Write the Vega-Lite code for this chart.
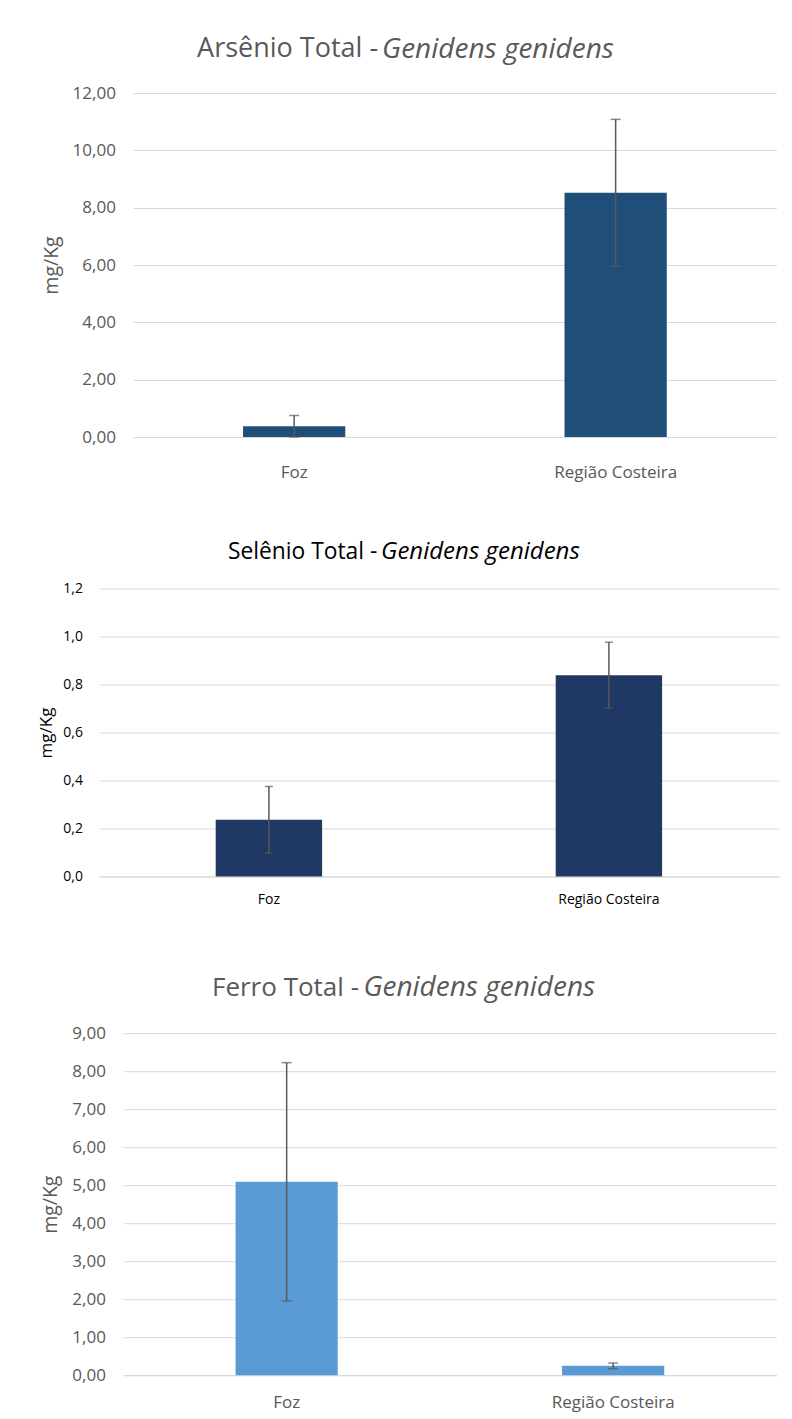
{
  "$schema": "https://vega.github.io/schema/vega-lite/v6.json",
  "background": "white",
  "padding": {"left": 20, "top": 35, "right": 5, "bottom": 5},
  "datasets": {
    "arsenio": [
      {"local": "Foz", "media": 0.375, "dp": 0.375},
      {"local": "Região Costeira", "media": 8.52, "dp": 2.56}
    ],
    "selenio": [
      {"local": "Foz", "media": 0.236, "dp": 0.139},
      {"local": "Região Costeira", "media": 0.839, "dp": 0.137}
    ],
    "ferro": [
      {"local": "Foz", "media": 5.09, "dp": 3.135},
      {"local": "Região Costeira", "media": 0.247, "dp": 0.074}
    ],
    "vazio": []
  },
  "columns": 1,
  "align": "none",
  "spacing": 58.5,
  "concat": [
    {
      "spacing": 19.4,
      "hconcat": [
        {"width": 1, "height": 1, "data": {"name": "vazio"}, "mark": "point"},
        {
          "title": {"text": "Arsênio Total -", "anchor": "start", "align": "right", "frame": "group", "fontSize": 27, "color": "#595959", "dx": 244.7, "dy": 28.2, "offset": -20.5, "baseline": "alphabetic"},
          "vconcat": [
            {
              "title": {"text": "Genidens genidens", "anchor": "start", "align": "left", "frame": "group", "fontStyle": "italic", "fontSize": 28, "color": "#595959", "dx": 248.7, "offset": 0, "dy": 1.5, "baseline": "alphabetic"},
              "width": 643,
              "height": 344,
              "data": {"name": "arsenio"},
              "encoding": {
                "x": {"field": "local", "type": "nominal", "sort": null, "title": null,
                  "scale": {"paddingInner": 0, "paddingOuter": 0},
                  "axis": {"labelAngle": 0, "ticks": false, "tickSize": 0, "domainColor": "#d9d9d9", "labelPadding": 27.3, "labelFontSize": 17, "labelColor": "#595959"}},
                "y": {"field": "media", "type": "quantitative", "title": "mg/Kg",
                  "scale": {"domain": [0, 12], "nice": false},
                  "axis": {"values": [0, 2, 4, 6, 8, 10, 12], "labelExpr": "replace(format(datum.value, '.2f'), '.', ',')", "grid": true, "gridColor": "#d9d9d9", "domain": false, "ticks": false, "tickSize": 0, "labelPadding": 18, "labelFontSize": 17, "labelColor": "#595959", "titleFontSize": 19.5, "titleFontWeight": "normal", "titleColor": "#595959", "titlePadding": 11}}
              },
              "layer": [
                {"mark": {"type": "bar", "color": "#1F4E79", "width": {"band": 0.318}}},
                {
                  "mark": {"type": "errorbar", "ticks": true, "size": 10, "thickness": 1.5, "color": "#595959"},
                  "encoding": {"yError": {"field": "dp"}}
                }
              ]
            }
          ]
        }
      ]
    },
    {
      "columns": 1,
      "align": "none",
      "spacing": 66.7,
      "concat": [
        {
          "spacing": 15.9,
          "hconcat": [
            {"width": 1, "height": 1, "data": {"name": "vazio"}, "mark": "point"},
            {
              "title": {"text": "Selênio Total -", "anchor": "start", "align": "right", "frame": "group", "fontSize": 22.8, "color": "#000000", "dx": 278.4, "dy": 24.2, "offset": -17.8, "baseline": "alphabetic"},
              "vconcat": [
                {
                  "title": {"text": "Genidens genidens", "anchor": "start", "align": "left", "frame": "group", "fontStyle": "italic", "fontSize": 24, "color": "#000000", "dx": 282.2, "offset": 0, "dy": 1.2, "baseline": "alphabetic"},
                  "width": 680,
                  "height": 288,
                  "data": {"name": "selenio"},
                  "encoding": {
                    "x": {"field": "local", "type": "nominal", "sort": null, "title": null,
                      "scale": {"paddingInner": 0, "paddingOuter": 0},
                      "axis": {"labelAngle": 0, "ticks": false, "tickSize": 0, "domainColor": "#d9d9d9", "labelPadding": 16, "labelFontSize": 14, "labelColor": "#000000"}},
                    "y": {"field": "media", "type": "quantitative", "title": "mg/Kg",
                      "scale": {"domain": [0, 1.2], "nice": false},
                      "axis": {"values": [0, 0.2, 0.4, 0.6, 0.8, 1.0, 1.2], "labelExpr": "replace(format(datum.value, '.1f'), '.', ',')", "grid": true, "gridColor": "#d9d9d9", "domain": false, "ticks": false, "tickSize": 0, "labelPadding": 16.5, "labelFontSize": 14, "labelColor": "#000000", "titleFontSize": 17, "titleFontWeight": "normal", "titleColor": "#000000", "titlePadding": 7}}
                  },
                  "layer": [
                    {"mark": {"type": "bar", "color": "#203864", "width": {"band": 0.313}}},
                    {
                      "mark": {"type": "errorbar", "ticks": true, "size": 8, "thickness": 1.5, "color": "#595959"},
                      "encoding": {"yError": {"field": "dp"}}
                    }
                  ]
                }
              ]
            }
          ]
        },
        {
          "spacing": 19.4,
          "hconcat": [
            {"width": 1, "height": 1, "data": {"name": "vazio"}, "mark": "point"},
            {
              "title": {"text": "Ferro Total -", "anchor": "start", "align": "right", "frame": "group", "fontSize": 26, "color": "#595959", "dx": 235.6, "dy": 27.2, "offset": -20.5, "baseline": "alphabetic"},
              "vconcat": [
                {
                  "title": {"text": "Genidens genidens", "anchor": "start", "align": "left", "frame": "group", "fontStyle": "italic", "fontSize": 28, "color": "#595959", "dx": 240, "offset": 0.2, "baseline": "alphabetic"},
                  "width": 653,
                  "height": 342,
                  "data": {"name": "ferro"},
                  "encoding": {
                    "x": {"field": "local", "type": "nominal", "sort": null, "title": null,
                      "scale": {"paddingInner": 0, "paddingOuter": 0},
                      "axis": {"labelAngle": 0, "ticks": false, "tickSize": 0, "domainColor": "#d9d9d9", "labelPadding": 19.5, "labelFontSize": 17, "labelColor": "#595959"}},
                    "y": {"field": "media", "type": "quantitative", "title": "mg/Kg",
                      "scale": {"domain": [0, 9], "nice": false},
                      "axis": {"values": [0, 1, 2, 3, 4, 5, 6, 7, 8, 9], "labelExpr": "replace(format(datum.value, '.2f'), '.', ',')", "grid": true, "gridColor": "#d9d9d9", "domain": false, "ticks": false, "tickSize": 0, "labelPadding": 18, "labelFontSize": 17, "labelColor": "#595959", "titleFontSize": 19.5, "titleFontWeight": "normal", "titleColor": "#595959", "titlePadding": 11}}
                  },
                  "layer": [
                    {"mark": {"type": "bar", "color": "#5B9BD5", "width": {"band": 0.313}}},
                    {
                      "mark": {"type": "errorbar", "ticks": true, "size": 10, "thickness": 1.5, "color": "#595959"},
                      "encoding": {"yError": {"field": "dp"}}
                    }
                  ]
                }
              ]
            }
          ]
        }
      ]
    }
  ],
  "config": {
    "font": "Open Sans",
    "view": {"stroke": null},
    "title": {"fontWeight": "normal", "font": "Open Sans"},
    "axis": {"labelFont": "Open Sans", "titleFont": "Open Sans"}
  }
}
